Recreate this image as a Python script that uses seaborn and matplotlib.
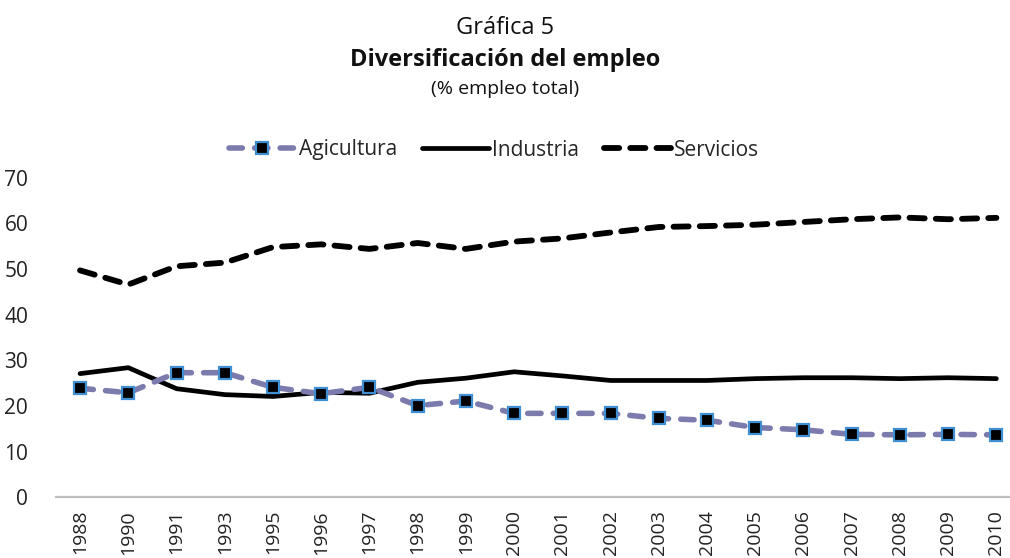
import matplotlib
matplotlib.use("Agg")
import matplotlib.pyplot as plt
import seaborn as sns
import pandas as pd

years = ["1988", "1990", "1991", "1993", "1995", "1996", "1997", "1998", "1999", "2000",
         "2001", "2002", "2003", "2004", "2005", "2006", "2007", "2008", "2009", "2010"]
agricultura = [23.9, 22.9, 27.3, 27.3, 24.1, 22.7, 24.1, 20.1, 21.1, 18.4,
               18.4, 18.4, 17.3, 16.9, 15.3, 14.8, 13.8, 13.7, 13.8, 13.7]
industria = [27.1, 28.4, 23.8, 22.5, 22.1, 23.0, 22.8, 25.2, 26.1, 27.5,
             26.6, 25.6, 25.6, 25.6, 26.0, 26.2, 26.2, 26.0, 26.2, 26.0]
servicios = [49.7, 46.6, 50.6, 51.4, 54.8, 55.4, 54.4, 55.7, 54.4, 56.0,
             56.7, 58.0, 59.2, 59.4, 59.7, 60.3, 60.9, 61.3, 60.9, 61.2]
series_names = ["Agicultura", "Industria", "Servicios"]
yticks = [0, 10, 20, 30, 40, 50, 60, 70]

sns.set_style("white")
plt.rcParams["font.family"] = ["Open Sans", "DejaVu Sans"]

fig = plt.figure(figsize=(10.10, 5.58), dpi=100)
ax = fig.add_axes([0.0554, 0.1086, 0.955, 0.573])

x = list(range(len(years)))

sns.lineplot(x=x, y=agricultura, ax=ax, color="#7B7BAD", linewidth=4.0,
             marker="s", markersize=8.5, markerfacecolor="black",
             markeredgecolor="#3F8FD2", markeredgewidth=1.6,
             label=series_names[0], zorder=3)
ax.lines[-1].set_dashes([2.4, 2.2])
ax.lines[-1].set_dash_capstyle("round")

sns.lineplot(x=x, y=industria, ax=ax, color="black", linewidth=3.4,
             label=series_names[1], zorder=2)
ax.lines[-1].set_solid_capstyle("round")

sns.lineplot(x=x, y=servicios, ax=ax, color="black", linewidth=4.2,
             label=series_names[2], zorder=2)
ax.lines[-1].set_dashes([2.6, 1.9])
ax.lines[-1].set_dash_capstyle("round")

ax.set_xlim(-0.5, len(years) - 0.5)
ax.set_ylim(0, 70)
ax.set_xticks(x)
ax.set_xticklabels(years, rotation=90, fontsize=14, color="#222222")
ax.set_yticks(yticks)
ax.set_yticklabels([str(v) for v in yticks], fontsize=15, color="#222222")
ax.yaxis.set_tick_params(length=0, pad=20)
ax.xaxis.set_tick_params(length=0, pad=9)

for s in ["top", "right", "left"]:
    ax.spines[s].set_visible(False)
ax.spines["bottom"].set_color("#BFBFBF")
ax.spines["bottom"].set_linewidth(1.6)
ax.grid(False)
ax.set_xlabel("")
ax.set_ylabel("")

leg = ax.legend(loc="center", bbox_to_anchor=(494 / 1010, 1 - 150 / 558),
                bbox_transform=fig.transFigure,
                ncol=3, frameon=False, fontsize=15, handlelength=3.2,
                handletextpad=0.15, columnspacing=1.2, borderaxespad=0)

fig.text(0.5, 0.949, "Gráfica 5", ha="center", va="center", fontsize=17, color="#111111")
fig.text(0.5, 0.892, "Diversificación del empleo", ha="center", va="center",
         fontsize=17, fontweight="bold", color="#111111")
fig.text(0.5, 0.840, "(% empleo total)", ha="center", va="center", fontsize=14, color="#111111")

fig.savefig("out.png", dpi=100)
